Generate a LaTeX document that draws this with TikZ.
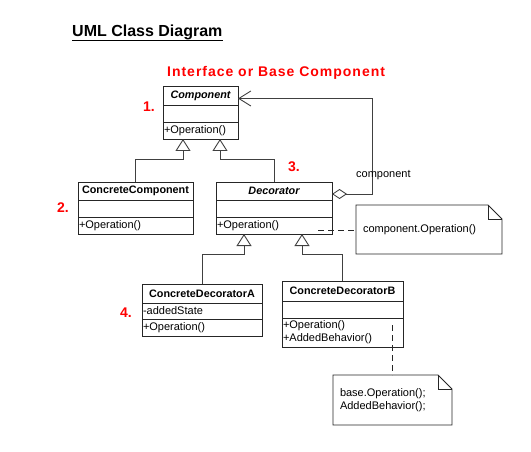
\documentclass[tikz,border=0pt]{standalone}
\usepackage{fontspec}
\setmainfont{Liberation Sans}
\newfontfamily\spacedfont[LetterSpace=7]{Liberation Sans}
\usepackage{xcolor}
\usetikzlibrary{arrows.meta,positioning,calc}

\newcommand{\foldnote}[1]{%
  \draw[line width=0.9pt, draw=black!85] (#1.north west) -- ([xshift=-14pt]#1.north east) -- ([yshift=-14pt]#1.north east) -- (#1.south east) -- (#1.south west) -- cycle;
  \draw[line width=0.9pt, draw=black!85] ([xshift=-14pt]#1.north east) |- ([yshift=-14pt]#1.north east);
}

\begin{document}
\begin{tikzpicture}[
  x=1pt, y=-1pt,
  font=\fontsize{11}{13}\selectfont,
  cname/.style={draw=black!85, line width=0.9pt, outer sep=0pt, inner sep=1.5pt, anchor=north west, minimum height=19pt, font=\fontsize{10.8}{13}\selectfont\bfseries},
  crow/.style={draw=black!85, line width=0.9pt, outer sep=0pt, inner xsep=1pt, inner ysep=1.5pt, align=left, minimum height=17pt, text width=#1},
  notebox/.style={outer sep=0pt, inner xsep=7pt, inner ysep=2pt, align=left, anchor=north west},
  num/.style={text=red, inner sep=0pt, anchor=base west, font=\fontsize{14}{16}\selectfont\bfseries},
  inherit/.style={-{Triangle[open, length=12pt, width=15pt]}, line width=0.9pt, draw=black!75},
  aggr/.style={{Diamond[open, length=15pt, width=10pt]}-{Straight Barb[length=12pt, width=15pt]}, line width=0.9pt, draw=black!75},
  notelink/.style={line width=0.9pt, draw=black!85, dash pattern=on 6pt off 4pt}
]
\path[use as bounding box, fill=white] (0,0) rectangle (531,452);

\node[anchor=base west, inner sep=0pt, font=\fontsize{16}{19}\selectfont\bfseries] (title) at (72,36.7) {UML Class Diagram};
\draw[line width=1.2pt] ([yshift=-3.6pt]title.base west) -- ([yshift=-3.6pt]title.base east);
\node[anchor=base west, inner sep=0pt, text=red, font=\spacedfont\fontsize{14}{16}\selectfont\bfseries] (kind) at (167,76.7) {Interface or Base Component};

\node[cname, minimum width=75pt] (comp-name) at (163,86) {\itshape Component};
\node[crow=73pt, below=0pt of comp-name] (comp-attr) {};
\node[crow=73pt, below=0pt of comp-attr] (comp-ops) {+Operation()};

\node[cname, minimum width=115pt, minimum height=18pt] (cc-name) at (78,182) {ConcreteComponent};
\node[crow=113pt, below=0pt of cc-name] (cc-attr) {};
\node[crow=113pt, below=0pt of cc-attr] (cc-ops) {+Operation()};

\node[cname, minimum width=116pt, minimum height=18pt] (dec-name) at (216,182) {\itshape Decorator};
\node[crow=114pt, below=0pt of dec-name] (dec-attr) {};
\node[crow=114pt, below=0pt of dec-attr] (dec-ops) {+Operation()};

\node[cname, minimum width=120pt] (cda-name) at (142,284) {ConcreteDecoratorA};
\node[crow=118pt, minimum height=16pt, below=0pt of cda-name] (cda-attr) {-addedState};
\node[crow=118pt, below=0pt of cda-attr] (cda-ops) {+Operation()};

\node[cname, minimum width=121pt, minimum height=20pt] (cdb-name) at (282,281) {ConcreteDecoratorB};
\node[crow=119pt, below=0pt of cdb-name] (cdb-attr) {};
\node[crow=119pt, minimum height=29pt, below=0pt of cdb-attr] (cdb-ops) {+Operation()\\+AddedBehavior()};

\node[notebox, text width=132pt, minimum height=49pt] (note1) at (356,205) {component.Operation()};
\foldnote{note1}
\node[notebox, text width=105pt, minimum height=50pt] (note2) at (333,375) {base.Operation();\\AddedBehavior();};
\foldnote{note2}

\node[num] (n1) at (143,111.5) {1.};
\node[num] (n2) at (57,212.5) {2.};
\node[num] (n3) at (288,171.7) {3.};
\node[num] (n4) at (120,317.3) {4.};

\draw[inherit] (cc-name.north) -- ++(0,-23) -| ([xshift=-17.5pt]comp-ops.south);
\draw[inherit] (dec-name.north) -- ++(0,-23) -| ([xshift=19.5pt]comp-ops.south);
\draw[inherit] (cda-name.north) -- ++(0,-30) -| ([xshift=-30pt]dec-ops.south);
\draw[inherit] (cdb-name.north) -- ++(0,-27) -| ([xshift=28pt]dec-ops.south);

\draw[aggr] ([yshift=-3pt]dec-name.east) -- ++(40,0) |- ([yshift=-3pt]comp-name.east);
\node[anchor=base west, inner sep=0pt] (role) at (356,177.3) {component};

\coordinate (opcall) at ([xshift=-14pt,yshift=-5pt]dec-ops.east);
\draw[notelink] (opcall) -- (opcall -| note1.west);
\coordinate (behcall) at ([xshift=-11pt,yshift=-7pt]cdb-ops.north east);
\draw[notelink] (behcall) -- (behcall |- note2.north);
\end{tikzpicture}
\end{document}
